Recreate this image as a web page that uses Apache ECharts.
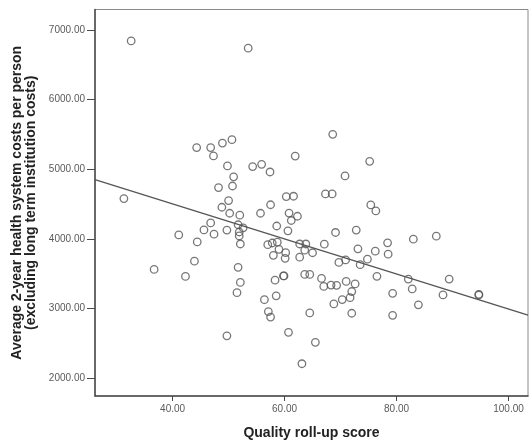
<!DOCTYPE html>
<html>
<head>
<meta charset="utf-8">
<script src="https://cdn.jsdelivr.net/npm/echarts@6/dist/echarts.min.js"></script>
<style>
  html, body { margin: 0; padding: 0; background: #fff; }
  #main { width: 529px; height: 445px; }
</style>
</head>
<body>
<div id="main"></div>
<script>
// quality roll-up score per area (x) and 2-year cost per person (y)
var qualityScore = [
  32.6, 53.5, 44.3, 46.8, 47.3, 48.9, 50.6, 49.8, 50.9, 54.3,
  55.9, 57.4, 61.9, 68.6, 75.2, 70.8, 48.2, 50.7, 31.3, 50.0,
  60.3, 61.6, 57.5, 48.8, 50.2, 52.0, 55.7, 60.8, 62.3, 61.2,
  46.8, 45.6, 47.4, 49.7, 51.7, 52.6, 51.9, 51.9, 58.6, 60.6,
  41.1, 44.4, 52.1, 57.0, 57.8, 58.7, 62.7, 63.8, 59.0, 60.2,
  58.0, 60.1, 62.7, 63.6, 43.9, 36.7, 51.7, 42.3, 59.8, 59.9,
  63.6, 64.5, 58.3, 52.1, 51.5, 58.5, 56.4, 67.3, 68.5, 75.4,
  76.3, 69.1, 72.8, 83.0, 87.1, 78.4, 78.5, 67.1, 73.1, 76.2,
  65.0, 69.7, 70.9, 73.5, 74.8, 66.6, 67.0, 68.3, 69.3, 71.0,
  72.6, 72.0, 71.7, 70.3, 68.8, 76.5, 82.1, 89.4, 82.8, 79.3,
  88.3, 94.7, 94.7, 64.5, 72.0, 79.3, 83.9, 65.5, 63.1, 57.1,
  57.5, 49.7, 60.7
];
var healthCost = [
  6840, 6736, 5310, 5310, 5191, 5375, 5424, 5047, 4891, 5037,
  5070, 4960, 5188, 5500, 5113, 4903, 4736, 4759, 4579, 4550,
  4607, 4612, 4490, 4454, 4368, 4340, 4368, 4371, 4325, 4264,
  4229, 4129, 4067, 4127, 4203, 4159, 4099, 4043, 4185, 4115,
  4057, 3957, 3927, 3917, 3941, 3953, 3927, 3927, 3850, 3802,
  3764, 3721, 3738, 3838, 3680, 3562, 3592, 3461, 3468, 3468,
  3490, 3490, 3407, 3375, 3229, 3183, 3128, 4645, 4645, 4487,
  4401, 4092, 4127, 3996, 4039, 3943, 3781, 3924, 3857, 3824,
  3801, 3662, 3698, 3630, 3709, 3433, 3318, 3337, 3334, 3390,
  3354, 3245, 3156, 3129, 3067, 3463, 3423, 3423, 3282, 3219,
  3196, 3205, 3195, 2938, 2933, 2904, 3054, 2516, 2209, 2957,
  2878, 2609, 2660
];
// fit line ends
var fitX = [26.14, 103.48];
var fitY = [4851, 2907];

var xTicks = [40, 60, 80, 100];
var yTicks = [2000, 3000, 4000, 5000, 6000, 7000];

var points = qualityScore.map(function (x, i) { return [x, healthCost[i]]; });
var fitLine = fitX.map(function (x, i) { return [x, fitY[i]]; });

var chart = echarts.init(document.getElementById('main'));
var axisColor = '#4a4a4a';
var labelColor = '#5a5a5a';
var font = '"Liberation Sans", Arial, sans-serif';

chart.setOption({
  animation: false,
  backgroundColor: '#fff',
  grid: {
    left: 95, right: 1, top: 9.5, bottom: 49,
    outerBoundsMode: 'none',
    show: true, borderColor: '#8a8a8a', borderWidth: 1
  },
  xAxis: {
    type: 'value',
    min: 26.14, max: 103.48,
    name: 'Quality roll-up score',
    nameLocation: 'middle',
    nameGap: 30,
    nameTextStyle: { fontFamily: font, fontWeight: 'bold', fontSize: 14, color: '#222' },
    splitLine: { show: false },
    axisLine: { show: true, lineStyle: { color: axisColor, width: 1.5 } },
    axisTick: { show: true, length: 5, customValues: xTicks, lineStyle: { color: axisColor } },
    axisLabel: {
      customValues: xTicks, color: labelColor, fontFamily: font, fontSize: 10, margin: 8,
      formatter: function (v) { return v.toFixed(2); }
    }
  },
  yAxis: {
    type: 'value',
    min: 1746, max: 7291,
    name: 'Average 2-year health system costs per person\n(excluding long term institution costs)',
    nameLocation: 'middle',
    nameGap: 54,
    nameRotate: 90,
    nameTextStyle: { fontFamily: font, fontWeight: 'bold', fontSize: 14, color: '#222', lineHeight: 14 },
    splitLine: { show: false },
    axisLine: { show: true, lineStyle: { color: axisColor, width: 1.5 } },
    axisTick: { show: true, length: 8, customValues: yTicks, lineStyle: { color: axisColor } },
    axisLabel: {
      customValues: yTicks, color: labelColor, fontFamily: font, fontSize: 10, margin: 10,
      formatter: function (v) { return v.toFixed(2); }
    }
  },
  series: [
    {
      type: 'scatter',
      data: points,
      symbol: 'circle',
      symbolSize: 7.5,
      itemStyle: { color: 'rgba(255,255,255,0)', borderColor: '#555', borderWidth: 1.3 },
      z: 3
    },
    {
      type: 'line',
      data: fitLine,
      symbol: 'none',
      lineStyle: { color: '#555', width: 1.3 },
      z: 2
    }
  ]
});
</script>
</body>
</html>
